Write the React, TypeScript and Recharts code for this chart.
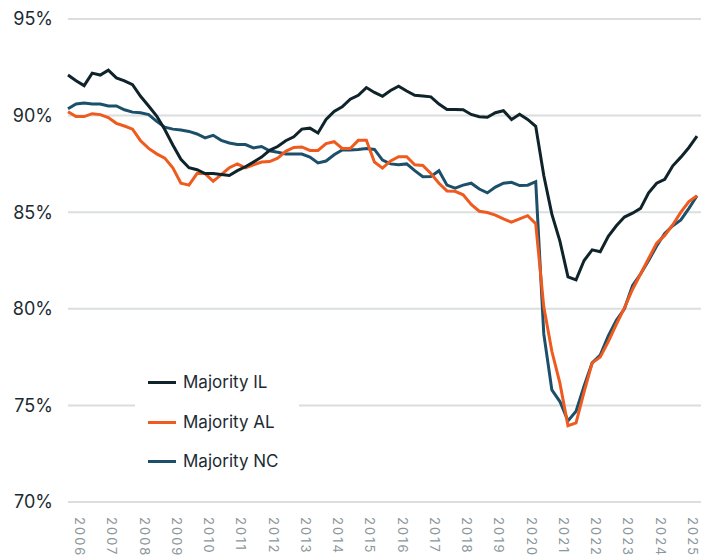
import { CartesianGrid, Legend, Line, LineChart, XAxis, YAxis } from "recharts";

// quarterly observations, 2005Q4 .. 2025Q2
const quarters = [
  "2005Q4",
  "2006Q1", "2006Q2", "2006Q3", "2006Q4",
  "2007Q1", "2007Q2", "2007Q3", "2007Q4",
  "2008Q1", "2008Q2", "2008Q3", "2008Q4",
  "2009Q1", "2009Q2", "2009Q3", "2009Q4",
  "2010Q1", "2010Q2", "2010Q3", "2010Q4",
  "2011Q1", "2011Q2", "2011Q3", "2011Q4",
  "2012Q1", "2012Q2", "2012Q3", "2012Q4",
  "2013Q1", "2013Q2", "2013Q3", "2013Q4",
  "2014Q1", "2014Q2", "2014Q3", "2014Q4",
  "2015Q1", "2015Q2", "2015Q3", "2015Q4",
  "2016Q1", "2016Q2", "2016Q3", "2016Q4",
  "2017Q1", "2017Q2", "2017Q3", "2017Q4",
  "2018Q1", "2018Q2", "2018Q3", "2018Q4",
  "2019Q1", "2019Q2", "2019Q3", "2019Q4",
  "2020Q1", "2020Q2", "2020Q3", "2020Q4",
  "2021Q1", "2021Q2", "2021Q3", "2021Q4",
  "2022Q1", "2022Q2", "2022Q3", "2022Q4",
  "2023Q1", "2023Q2", "2023Q3", "2023Q4",
  "2024Q1", "2024Q2", "2024Q3", "2024Q4",
  "2025Q1", "2025Q2",
];

const years = [
  "2006", "2007", "2008", "2009", "2010", "2011", "2012", "2013", "2014", "2015",
  "2016", "2017", "2018", "2019", "2020", "2021", "2022", "2023", "2024", "2025",
];

const majorityIL = [
  92.1,
  91.8, 91.55, 92.2, 92.1,
  92.35, 91.95, 91.8, 91.6,
  91.0, 90.5, 89.98, 89.28,
  88.48, 87.74, 87.3, 87.2,
  87.0, 87.0, 86.95, 86.9,
  87.15, 87.35, 87.6, 87.85,
  88.2, 88.4, 88.7, 88.9,
  89.3, 89.35, 89.1, 89.8,
  90.22, 90.45, 90.85, 91.05,
  91.45, 91.2, 91.0, 91.3,
  91.52, 91.27, 91.05, 91.02,
  90.97, 90.6, 90.32, 90.32,
  90.3, 90.06, 89.94, 89.91,
  90.15, 90.25, 89.8, 90.07,
  89.8, 89.45, 86.9, 84.9,
  83.5, 81.65, 81.5, 82.5,
  83.05, 82.95, 83.75, 84.3,
  84.75, 84.95, 85.2, 86.0,
  86.5, 86.7, 87.4, 87.85,
  88.35, 88.94,
];

const majorityAL = [
  90.2,
  89.95, 89.95, 90.1, 90.05,
  89.9, 89.6, 89.46, 89.3,
  88.7, 88.3, 88.02, 87.8,
  87.3, 86.5, 86.4, 87.0,
  87.0, 86.6, 86.95, 87.3,
  87.5, 87.3, 87.45, 87.6,
  87.62, 87.8, 88.15, 88.35,
  88.38, 88.2, 88.2, 88.55,
  88.65, 88.3, 88.3, 88.72,
  88.72, 87.6, 87.28, 87.65,
  87.87, 87.87, 87.45, 87.42,
  87.0, 86.5, 86.1, 86.08,
  85.9, 85.4, 85.05, 84.98,
  84.85, 84.65, 84.48, 84.65,
  84.82, 84.4, 80.1, 77.8,
  76.15, 73.95, 74.1, 75.7,
  77.2, 77.5, 78.3, 79.2,
  80.05, 81.0, 81.8, 82.6,
  83.4, 83.8, 84.35, 85.0,
  85.55, 85.85,
];

const majorityNC = [
  90.35,
  90.6, 90.65, 90.6, 90.6,
  90.5, 90.5, 90.3, 90.18,
  90.15, 90.05, 89.7, 89.4,
  89.3, 89.25, 89.18, 89.05,
  88.85, 88.98, 88.72, 88.58,
  88.5, 88.5, 88.33, 88.4,
  88.18, 88.1, 88.01, 88.01,
  88.01, 87.85, 87.55, 87.65,
  87.97, 88.22, 88.22, 88.24,
  88.3, 88.25, 87.7, 87.5,
  87.46, 87.5, 87.15, 86.84,
  86.85, 87.15, 86.4, 86.25,
  86.4, 86.5, 86.2, 86.0,
  86.3, 86.5, 86.55, 86.38,
  86.4, 86.58, 78.7, 75.8,
  75.2, 74.2, 74.7, 76.0,
  77.2, 77.6, 78.6, 79.4,
  80.0, 81.2, 81.8, 82.5,
  83.25, 83.9, 84.3, 84.6,
  85.2, 85.85,
];

const pctTicks = [70, 75, 80, 85, 90, 95];

const data = quarters.map((q, i) => ({
  q,
  il: majorityIL[i],
  al: majorityAL[i],
  nc: majorityNC[i],
}));

const INK = "#1c2b33";

const series = [
  { key: "il", name: "Majority IL", color: "#0f232b" },
  { key: "al", name: "Majority AL", color: "#ef5a1f" },
  { key: "nc", name: "Majority NC", color: "#1c506a" },
];

function YearTick({ x, y, payload }: any) {
  return (
    <text
      x={0}
      y={0}
      dy={1}
      transform={`translate(${x},${y}) rotate(90)`}
      textAnchor="start"
      fill="#8c979b"
      fontSize={13}
      letterSpacing={2}
    >
      {String(payload.value).slice(0, 4)}
    </text>
  );
}

function Key() {
  return (
    <div style={{ background: "#fff", width: 164, height: 119 }}>
      {series.map((s) => (
        <div key={s.key} style={{ display: "flex", alignItems: "center", height: 39.5 }}>
          <span style={{ width: 28, height: 3, background: s.color, marginLeft: 13, marginRight: 7 }} />
          <span style={{ fontSize: 17, color: INK, lineHeight: 1 }}>{s.name}</span>
        </div>
      ))}
    </div>
  );
}

export default function App() {
  return (
    <div style={{ position: "absolute", left: 0, top: 0, fontFamily: "Inter, sans-serif", background: "#fff" }}>
      <LineChart width={701} height={558} data={data} margin={{ top: 19, right: 4, bottom: 0, left: 0 }}>
        <CartesianGrid
          vertical={false}
          horizontal={(p: any) => (
            <line key={p.key} x1={p.x1} x2={p.x2 + 4} y1={p.y1} y2={p.y2} stroke="#dadede" strokeWidth={2} />
          )}
        />
        <XAxis
          dataKey="q"
          ticks={years.map((y) => `${y}Q1`)}
          interval={0}
          tick={<YearTick />}
          axisLine={false}
          tickLine={false}
          tickSize={0}
          tickMargin={15}
          height={56}
        />
        <YAxis
          domain={[70, 95]}
          ticks={pctTicks}
          tickFormatter={(v) => `${v}%`}
          width={68}
          axisLine={false}
          tickLine={false}
          tickSize={0}
          tickMargin={15}
          tick={{ fill: INK, fontSize: 18 }}
        />
        <Legend
          layout="vertical"
          align="center"
          verticalAlign="middle"
          wrapperStyle={{ left: 135, top: 363, width: 164 }}
          content={() => <Key />}
        />
        <Line type="linear" dataKey="nc" name="Majority NC" stroke="#1c506a" strokeWidth={3} dot={false} isAnimationActive={false} />
        <Line type="linear" dataKey="al" name="Majority AL" stroke="#ef5a1f" strokeWidth={3} dot={false} isAnimationActive={false} />
        <Line type="linear" dataKey="il" name="Majority IL" stroke="#0f232b" strokeWidth={3} dot={false} isAnimationActive={false} />
      </LineChart>
    </div>
  );
}
